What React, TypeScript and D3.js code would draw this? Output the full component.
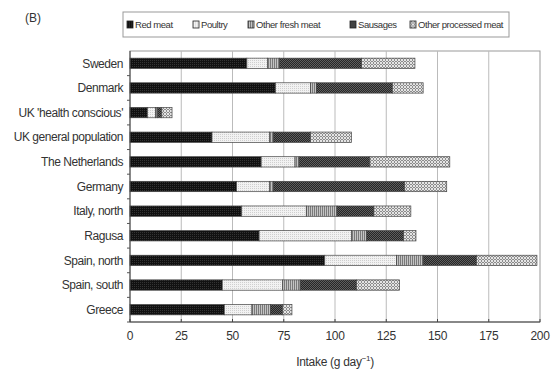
import * as d3 from 'd3'

const countries = [
  'Sweden', 'Denmark', "UK 'health conscious'", 'UK general population', 'The Netherlands',
  'Germany', 'Italy, north', 'Ragusa', 'Spain, north', 'Spain, south', 'Greece',
]
const seriesNames = ['Red meat', 'Poultry', 'Other fresh meat', 'Sausages', 'Other processed meat']
const redMeat = [57, 71, 8.5, 40, 64, 52, 54.5, 63, 95, 45, 46]
const poultry = [10, 17, 4, 28, 16.5, 16, 31.5, 45, 35, 29.5, 13.5]
const otherFresh = [6, 3, 1, 2, 2, 2, 15, 7.5, 13, 8.5, 9]
const sausages = [40, 37, 2, 18, 34.5, 64, 18, 18, 26, 27.5, 6]
const otherProcessed = [26, 15, 5, 20, 39, 20.5, 18, 6, 29.5, 21, 4.5]
const xTicks = [0, 25, 50, 75, 100, 125, 150, 175, 200]

const patternIds = ['pRed', 'pPoultry', 'pFresh', 'pSaus', 'pProc']

export default function App() {
  const W = 555, H = 380
  const m = { left: 130, right: 15, top: 51, bottom: 58 }
  const x = d3.scaleLinear().domain([0, 200]).range([m.left, W - m.right])
  const y = d3.scaleBand().domain(countries).range([m.top, H - m.bottom]).paddingInner(0.58).paddingOuter(0.29)

  const rows = countries.map((c, i) => ({
    country: c,
    s0: redMeat[i], s1: poultry[i], s2: otherFresh[i], s3: sausages[i], s4: otherProcessed[i],
  }))
  const stacked = d3.stack<any>().keys(['s0', 's1', 's2', 's3', 's4'])(rows)

  const font = '"Liberation Sans", Arial, sans-serif'
  const bandStep = y.step()
  const legendItems = [127, 193, 248, 350, 410]

  return (
    <svg width={W} height={H} style={{ position: 'absolute', left: 0, top: 0, background: '#fff' }}>
      <defs>
        <pattern id="pRed" width="2" height="2" patternUnits="userSpaceOnUse">
          <rect width="2" height="2" fill="#111" />
          <rect width="1" height="1" fill="#333" />
        </pattern>
        <pattern id="pPoultry" width="2" height="2" patternUnits="userSpaceOnUse">
          <rect width="2" height="2" fill="#f2f2f2" />
          <rect width="1" height="1" fill="#cfcfcf" />
        </pattern>
        <pattern id="pFresh" width="2" height="2" patternUnits="userSpaceOnUse">
          <rect width="2" height="2" fill="#c4c4c4" />
          <rect width="1" height="2" fill="#7a7a7a" />
        </pattern>
        <pattern id="pSaus" width="2" height="2" patternUnits="userSpaceOnUse">
          <rect width="2" height="2" fill="#262626" />
          <rect width="1" height="1" fill="#5e5e5e" />
          <rect x="1" y="1" width="1" height="1" fill="#5e5e5e" />
        </pattern>
        <pattern id="pProc" width="3" height="3" patternUnits="userSpaceOnUse">
          <rect width="3" height="3" fill="#e4e4e4" />
          <rect x="1" y="0" width="1" height="1" fill="#8c8c8c" />
          <rect x="0" y="1" width="1" height="1" fill="#8c8c8c" />
          <rect x="2" y="1" width="1" height="1" fill="#8c8c8c" />
          <rect x="1" y="2" width="1" height="1" fill="#8c8c8c" />
        </pattern>
      </defs>

      <text x={25} y={22} fontFamily={font} fontSize={12} fill="#333">(B)</text>

      {/* legend */}
      <rect x={123} y={12} width={386} height={25} fill="#fff" stroke="#999" strokeWidth={1} />
      {seriesNames.map((s, i) => (
        <g key={s} transform={`translate(${legendItems[i]},24.5)`}>
          <rect x={0} y={-3.5} width={6} height={7} fill={`url(#${patternIds[i]})`} stroke="#222" strokeWidth={0.8} />
          <text x={8} y={3.5} fontFamily={font} fontSize={9.5} letterSpacing={-0.45} fill="#333">{s}</text>
        </g>
      ))}

      {/* plot frame and grid */}
      <rect x={m.left} y={m.top} width={W - m.right - m.left} height={H - m.bottom - m.top} fill="none" stroke="#999" strokeWidth={1} />
      {xTicks.slice(1, -1).map(t => (
        <line key={t} x1={x(t)} x2={x(t)} y1={m.top} y2={H - m.bottom} stroke="#bbb" strokeWidth={1} />
      ))}

      {/* bars */}
      {stacked.map((layer, li) => (
        <g key={layer.key}>
          {layer.map((d, i) => (
            <rect
              key={i}
              x={x(d[0])}
              y={y(countries[i])!}
              width={x(d[1]) - x(d[0])}
              height={y.bandwidth()}
              fill={`url(#${patternIds[li]})`}
              stroke="#444"
              strokeWidth={0.7}
            />
          ))}
        </g>
      ))}

      {/* left axis */}
      <line x1={m.left} x2={m.left} y1={m.top} y2={H - m.bottom} stroke="#444" strokeWidth={1} />
      {countries.map((c, i) => (
        <line key={c} x1={m.left - 3} x2={m.left} y1={m.top + bandStep * (i + 1)} y2={m.top + bandStep * (i + 1)} stroke="#555" />
      ))}
      {countries.map(c => (
        <text key={c} x={m.left - 7} y={y(c)! + y.bandwidth() / 2} dy="0.35em" textAnchor="end" fontFamily={font} fontSize={12} letterSpacing={-0.45} fill="#333">{c}</text>
      ))}

      {/* bottom axis */}
      <line x1={m.left} x2={W - m.right} y1={H - m.bottom} y2={H - m.bottom} stroke="#444" strokeWidth={1.2} />
      {xTicks.map(t => (
        <g key={t}>
          <line x1={x(t)} x2={x(t)} y1={H - m.bottom - 3} y2={H - m.bottom} stroke="#444" />
          <text x={x(t)} y={H - m.bottom + 18} textAnchor="middle" fontFamily={font} fontSize={12} letterSpacing={-0.3} fill="#333">{t}</text>
        </g>
      ))}
      <text x={x(100)} y={366} textAnchor="middle" fontFamily={font} fontSize={12} letterSpacing={-0.3} fill="#333">
        Intake (g day<tspan dy={-5} fontSize={8}>−1</tspan><tspan dy={5}>)</tspan>
      </text>
    </svg>
  )
}
